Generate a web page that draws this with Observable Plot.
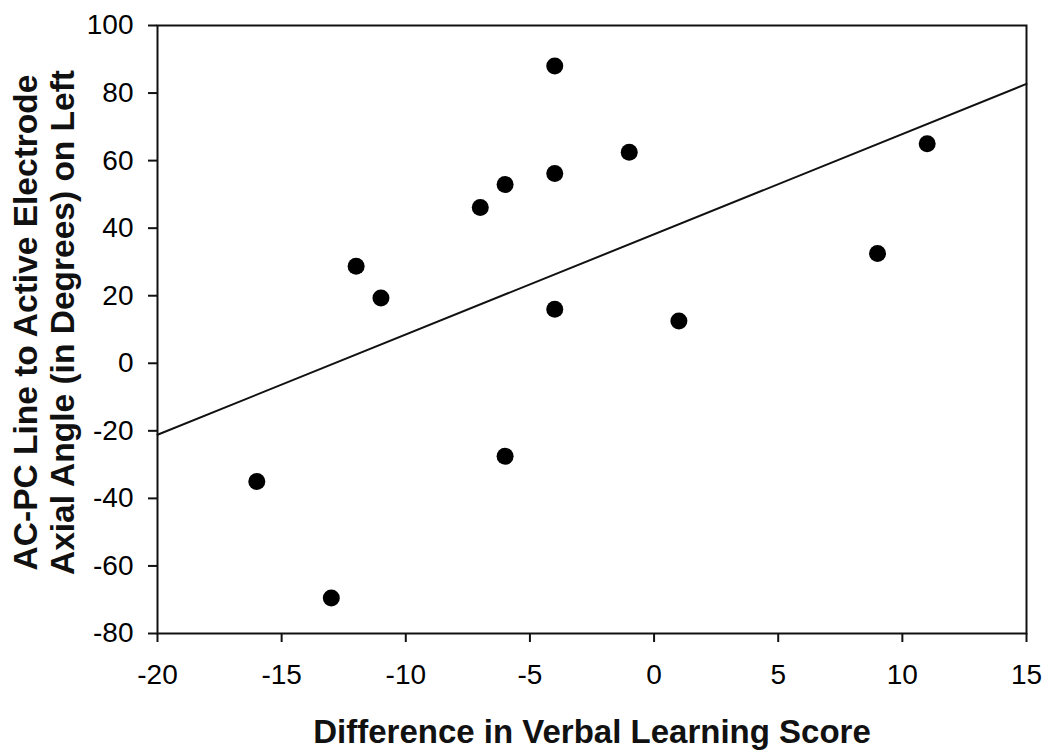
<!DOCTYPE html>
<html>
<head>
<meta charset="utf-8">
<script src="https://cdn.jsdelivr.net/npm/d3@7"></script>
<script src="https://cdn.jsdelivr.net/npm/@observablehq/plot@0.6"></script>
<style>
  html, body { margin: 0; padding: 0; background: #fff; }
  #chart { width: 1050px; height: 753px; }
</style>
</head>
<body>
<div id="chart"></div>
<script>
// Difference in Verbal Learning Score
const verbalDiff = [-16, -13, -12, -11, -7, -6, -6, -4, -4, -4, -1, 1, 9, 11];
// AC-PC Line to Active Electrode Axial Angle (degrees) on Left
const axialAngle = [-35, -69.5, 28.7, 19.3, 46.1, 52.9, -27.5, 88, 56.2, 16, 62.5, 12.5, 32.5, 65];

const xTicks = [-20, -15, -10, -5, 0, 5, 10, 15];
const yTicks = [-80, -60, -40, -20, 0, 20, 40, 60, 80, 100];
const xDomain = [-20, 15];
const yDomain = [-80, 100];
const xTitle = "Difference in Verbal Learning Score";
const yTitle = "AC-PC Line to Active Electrode\nAxial Angle (in Degrees) on Left";

const points = verbalDiff.map((x, i) => ({x, y: axialAngle[i]}));

// least-squares fit, drawn across the full x axis
const mx = d3.mean(verbalDiff), my = d3.mean(axialAngle);
const slope = d3.sum(points, d => (d.x - mx) * (d.y - my)) / d3.sum(points, d => (d.x - mx) ** 2);
const intercept = my - slope * mx;
const fit = xDomain.map(x => ({x, y: intercept + slope * x}));

const chart = Plot.plot({
  width: 1050,
  height: 753,
  marginLeft: 157,
  marginRight: 24,
  marginTop: 25,
  marginBottom: 120,
  style: {fontFamily: "'Liberation Sans', Arial, sans-serif", fontSize: "28px", color: "#000", background: "#fff"},
  x: {domain: xDomain},
  y: {domain: yDomain},
  marks: [
    Plot.frame({stroke: "#111", strokeWidth: 2}),
    Plot.axisX({ticks: xTicks, tickSize: 9, tickPadding: 22, strokeWidth: 2, stroke: "#111", fontSize: 28, label: null, tickFormat: d => String(d)}),
    Plot.axisY({ticks: yTicks, tickSize: 9, tickPadding: 15, strokeWidth: 2, stroke: "#111", fontSize: 28, label: null, tickFormat: d => String(d)}),
    Plot.line(fit, {x: "x", y: "y", stroke: "#111", strokeWidth: 2}),
    Plot.dot(points, {x: "x", y: "y", r: 8.5, fill: "#000", stroke: "none"}),
    Plot.text([xTitle], {frameAnchor: "bottom", dy: 109, text: d => d, fontSize: 33, fontWeight: "bold", fill: "#111", textAnchor: "middle"}),
    Plot.text([yTitle], {frameAnchor: "left", dx: -114, dy: -7, rotate: -90, text: d => d, fontSize: 33.5, fontWeight: "bold", fill: "#111", lineHeight: 1.1, lineAnchor: "middle", textAnchor: "middle"})
  ]
});
document.getElementById("chart").appendChild(chart);
</script>
</body>
</html>
